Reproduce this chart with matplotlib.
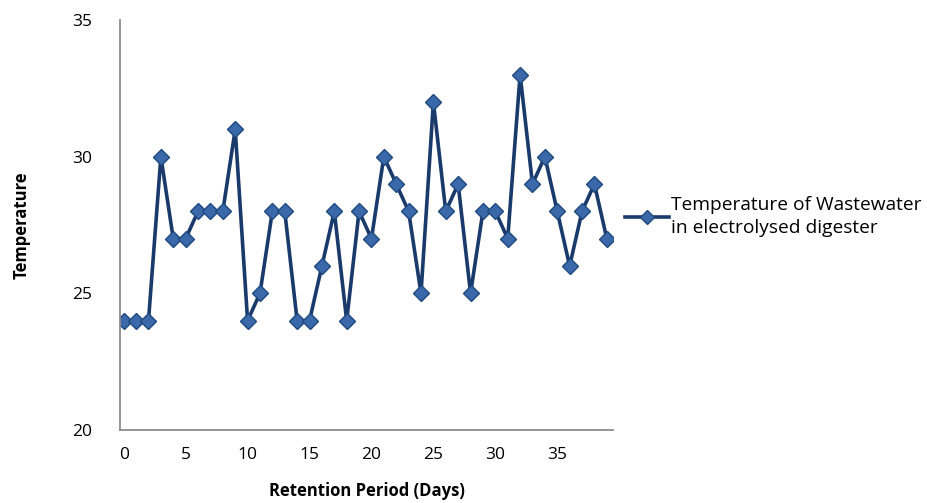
import matplotlib.pyplot as plt

days = list(range(40))
temperature = [24, 24, 24, 30, 27, 27, 28, 28, 28, 31,
               24, 25, 28, 28, 24, 24, 26, 28, 24, 28,
               27, 30, 29, 28, 25, 32, 28, 29, 25, 28,
               28, 27, 33, 29, 30, 28, 26, 28, 29, 27]
x_ticks = [0, 5, 10, 15, 20, 25, 30, 35]
y_ticks = [20, 25, 30, 35]

plt.rcParams['font.family'] = ['Open Sans', 'DejaVu Sans']

fig = plt.figure(figsize=(9.27, 5.03), dpi=100)
ax = fig.add_axes([120 / 927, 1 - 430 / 503, (613 - 120) / 927, (430 - 20) / 503])

ax.plot(days, temperature, color='#1A3A6B', lw=2.6, marker='D', markersize=8.5,
        markerfacecolor='#3A68A8', markeredgecolor='#1F4A80', markeredgewidth=1,
        label='Temperature of Wastewater\nin electrolysed digester')

ax.set_xlim(-0.3, 39.5)
ax.set_ylim(20, 35)
ax.set_xticks(x_ticks)
ax.set_yticks(y_ticks)
ax.tick_params(length=0, labelsize=12.5, pad=12)
ax.tick_params(axis='y', pad=20)
for side in ['top', 'right']:
    ax.spines[side].set_visible(False)
for side in ['left', 'bottom']:
    ax.spines[side].set_color('#8C8C8C')
    ax.spines[side].set_linewidth(1.3)

ax.set_xlabel('Retention Period (Days)', fontsize=12, fontweight='bold', labelpad=14)
ax.set_ylabel('Temperature', fontsize=12, fontweight='bold', labelpad=30)

leg = ax.legend(loc='center left', bbox_to_anchor=(0.99, 0.52), frameon=False,
                fontsize=13.8, handlelength=2.3, handletextpad=0.1, markerscale=0.8)
for t in leg.get_texts():
    t.set_linespacing(1.35)

fig.savefig('out.png', dpi=100)
